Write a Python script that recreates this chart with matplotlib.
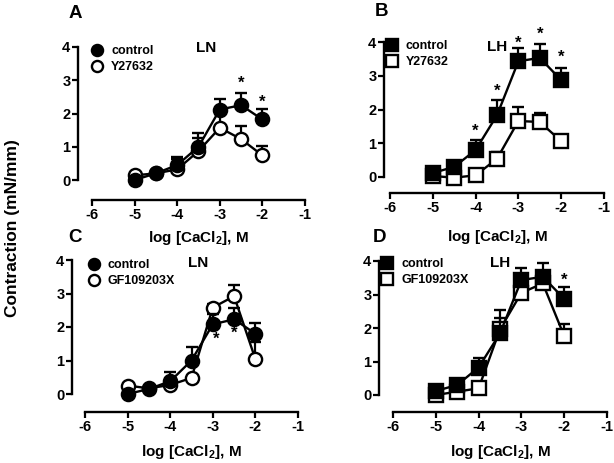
import numpy as np
import matplotlib
matplotlib.use("Agg")
import matplotlib.pyplot as plt
import matplotlib.transforms as mtransforms
from matplotlib.lines import Line2D

plt.rcParams["font.family"] = ["Liberation Sans", "DejaVu Sans"]
plt.rcParams["font.weight"] = "bold"
plt.rcParams["axes.unicode_minus"] = False
plt.rcParams["mathtext.fontset"] = "custom"
plt.rcParams["mathtext.bf"] = "Liberation Sans:bold"
plt.rcParams["mathtext.rm"] = "Liberation Sans:bold"

# log [CaCl2] concentrations
conc = [-5, -4.5, -4, -3.5, -3, -2.5, -2]

# A: LN, control vs Y27632
a_ctrl = [0.0, 0.2, 0.45, 1.0, 2.12, 2.25, 1.82]
a_ctrl_err = [0.0, 0.0, 0.25, 0.4, 0.32, 0.38, 0.32]
a_y27 = [0.14, 0.2, 0.32, 0.87, 1.57, 1.23, 0.74]
a_y27_err = [0.0, 0.0, 0.3, 0.4, 0.4, 0.38, 0.27]
a_stars = [(-2.5, 2.9), (-2, 2.35)]

# B: LH, control vs Y27632
b_ctrl = [0.12, 0.3, 0.8, 1.83, 3.43, 3.53, 2.87]
b_ctrl_err = [0.17, 0.18, 0.29, 0.45, 0.38, 0.4, 0.37]
b_y27 = [0.03, -0.02, 0.05, 0.54, 1.66, 1.63, 1.06]
b_y27_err = [0.0, 0.0, 0.0, 0.2, 0.4, 0.28, 0.0]
b_stars = [(-4, 1.36), (-3.5, 2.54), (-3, 3.96), (-2.5, 4.24), (-2, 3.56)]

# C: LN, control vs GF109203X
c_ctrl = [0.0, 0.15, 0.38, 1.0, 2.08, 2.23, 1.8]
c_ctrl_err = [0.0, 0.0, 0.28, 0.4, 0.3, 0.35, 0.32]
c_gf = [0.25, 0.17, 0.27, 0.48, 2.58, 2.92, 1.04]
c_gf_err = [0.0, 0.0, 0.0, 0.0, 0.12, 0.32, 0.5]
c_stars = [(-2.93, 1.62), (-2.5, 1.8)]

# D: LH, control vs GF109203X
d_ctrl = [0.12, 0.3, 0.82, 1.84, 3.43, 3.53, 2.87]
d_ctrl_err = [0.18, 0.17, 0.28, 0.7, 0.37, 0.42, 0.36]
d_gf = [0.0, 0.1, 0.2, 1.96, 3.05, 3.33, 1.76]
d_gf_err = [0.0, 0.0, 0.0, 0.33, 0.0, 0.0, 0.36]
d_stars = [(-2, 3.42)]

W, H = 614, 463
fig = plt.figure(figsize=(W / 100, H / 100), dpi=100)


def make_axes(xl, x6, x1, y0, y4, yb):
    # pixel layout -> axes placed so data maps to the reference pixels
    ppx = (x1 - x6) / 5.0
    ppy = (y0 - y4) / 4.0
    xmin = -6 - (x6 - xl) / ppx
    ymin = -(yb - y0) / ppy
    ymax = 4.6
    ytop = y0 - ymax * ppy
    xr = x1 + 2
    xmax = -1 + 2 / ppx
    ax = fig.add_axes([xl / W, 1 - yb / H, (xr - xl) / W, (yb - ytop) / H])
    ax.patch.set_visible(False)
    ax.set_xlim(xmin, xmax)
    ax.set_ylim(ymin, ymax)
    for s in ["top", "right"]:
        ax.spines[s].set_visible(False)
    ax.spines["left"].set_bounds(0, 4)
    ax.spines["bottom"].set_bounds(-6, -1)
    for s in ["left", "bottom"]:
        ax.spines[s].set_linewidth(1.7)
    ax.set_xticks([-6, -5, -4, -3, -2, -1])
    ax.set_yticks([0, 1, 2, 3, 4])
    ax.tick_params(width=1.6, length=4, labelsize=10.5, pad=1.5)
    for lab in ax.get_xticklabels() + ax.get_yticklabels():
        lab.set_fontweight("bold")
    return ax


def draw_series(ax, y, err, marker, filled):
    fc = "black" if filled else "white"
    ax.errorbar(conc, y, yerr=[np.zeros(len(err)), err], color="black",
                lw=1.7, capsize=4, capthick=1.6, elinewidth=1.6,
                marker=marker, ms=9.5, mfc=fc, mec="black", mew=1.7,
                zorder=3 if filled else 2)


def panel(ax, ctrl, ctrl_err, other, other_err, marker, other_name, region,
          region_xy, stars, leg_xy, xlabel_y):
    draw_series(ax, other, other_err, marker, False)
    draw_series(ax, ctrl, ctrl_err, marker, True)
    for sx, sy in stars:
        ax.text(sx, sy, "*", ha="center", va="center", fontsize=12,
                fontweight="bold", zorder=5)
    ax.text(region_xy[0], region_xy[1], region, ha="center", va="center",
            fontsize=11, fontweight="bold")
    handles = [
        Line2D([], [], ls="none", marker=marker, ms=8, mfc="black",
               mec="black", mew=1.7),
        Line2D([], [], ls="none", marker=marker, ms=8, mfc="white",
               mec="black", mew=1.7),
    ]
    ax.legend(handles, ["control", other_name], loc="upper left",
              bbox_to_anchor=(leg_xy[0] / W, 1 - leg_xy[1] / H),
              bbox_transform=fig.transFigure, frameon=False,
              handlelength=1.0, handletextpad=0.6, borderpad=0,
              borderaxespad=0, labelspacing=0.35,
              prop={"size": 9, "weight": "bold"})
    trans = mtransforms.blended_transform_factory(ax.transData, fig.transFigure)
    ax.text(-3.5, 1 - xlabel_y / H, r"log [CaCl$_{\mathbf{2}}$], M",
            transform=trans, ha="center", va="center", fontsize=11,
            fontweight="bold")


axA = make_axes(78, 92, 305, 180, 47, 200)
panel(axA, a_ctrl, a_ctrl_err, a_y27, a_y27_err, "o", "Y27632", "LN",
      (-3.32, 3.98), a_stars, (91, 45), 238)

axB = make_axes(384, 390, 604, 177, 42, 193)
panel(axB, b_ctrl, b_ctrl_err, b_y27, b_y27_err, "s", "Y27632", "LH",
      (-3.5, 3.85), b_stars, (386, 40), 237)

axC = make_axes(72, 85, 298, 394, 260, 412)
panel(axC, c_ctrl, c_ctrl_err, c_gf, c_gf_err, "o", "GF109203X", "LN",
      (-3.35, 3.9), c_stars, (88, 259), 452)

axD = make_axes(379, 393, 607, 395, 261, 412)
panel(axD, d_ctrl, d_ctrl_err, d_gf, d_gf_err, "s", "GF109203X", "LH",
      (-3.5, 3.95), d_stars, (381, 258), 452)

# panel letters
for letter, (px, py) in zip("ABCD", [(75, 14), (381, 12), (75, 237), (379, 237)]):
    fig.text(px / W, 1 - py / H, letter, ha="center", va="center",
             fontsize=13.5, fontweight="heavy")

fig.text(13 / W, 1 - 228 / H, "Contraction (mN/mm)", rotation=90,
         ha="center", va="center", fontsize=12.5, fontweight="heavy")

fig.savefig("out.png", dpi=100)
